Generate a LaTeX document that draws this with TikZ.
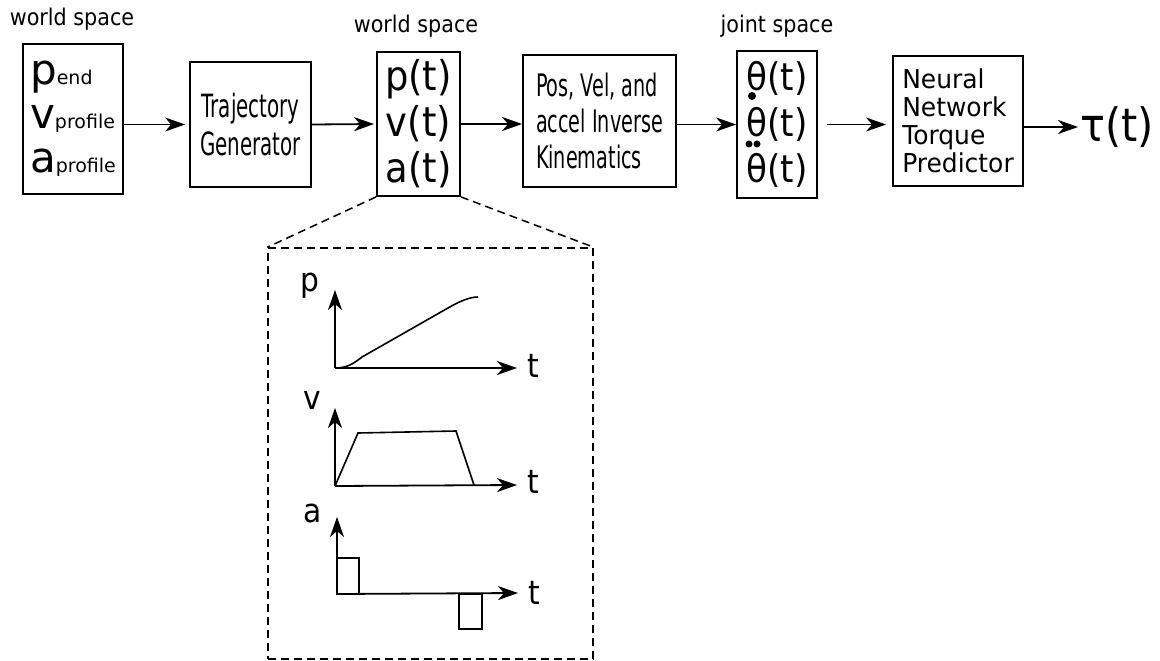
\documentclass[tikz,border=0pt]{standalone}
\usepackage{fontspec}
\setmainfont{DejaVu Sans}
\newfontfamily\narrowfont[FakeStretch=0.62]{DejaVu Sans}
\newfontfamily\slimfont[FakeStretch=0.9]{DejaVu Sans}
\newfontfamily\nnfont[FakeStretch=0.96]{DejaVu Sans}
\usepackage{tikz}
\usetikzlibrary{positioning}
\usetikzlibrary{arrows.meta}
\newcommand{\fs}[2]{\fontsize{#1}{#2}\selectfont}
\newcommand{\quant}[2]{{\fs{42}{44}#1}{\fs{19}{44}#2}}
\tikzstyle{block} = [rectangle, draw, line width=1.8pt, inner sep=0pt]
\tikzstyle{line} = [draw, line width=1.8pt, -{Stealth[length=20pt,width=14pt,inset=6pt]}]
\tikzstyle{zoomline} = [draw, line width=1.5pt, dash pattern=on 8pt off 5pt]
\tikzstyle{curve} = [draw, line width=1.6pt]
\tikzstyle{axislabel} = [font=\slimfont\fs{33}{36}, inner sep=0pt]
\tikzstyle{spacelabel} = [font=\slimfont\fs{23}{26}]

\begin{document}
\begin{tikzpicture}[x=1pt, y=-1pt]
  \useasboundingbox (0,0) rectangle (1160,661);

  \node [block, minimum width=100pt, minimum height=150pt, align=left,
    font=\fs{42}{44}] (input) at (73,119)
    {\quant{p}{end}\\\quant{v}{profile}\\\quant{a}{profile}};
  \node [block, minimum width=121pt, minimum height=125pt, align=center,
    font=\narrowfont\fs{32}{38}] (traj) at (250.5,124.5) {Trajectory\\Generator};
  \node [block, minimum width=83pt, minimum height=144pt, align=center,
    font=\slimfont\fs{41}{46}] (world) at (418.5,124) {p(t)\\v(t)\\a(t)};
  \node [block, minimum width=153pt, minimum height=132pt, align=left,
    font=\narrowfont\fs{31}{36}] (ik) at (599.5,121) {Pos, Vel, and\\accel Inverse\\Kinematics};
  \node [block, minimum width=80pt, minimum height=147pt, align=center,
    font=\slimfont\fs{38}{46}] (joint) at (777,124.5) {θ(t)\\θ(t)\\θ(t)};
  \node [block, minimum width=130pt, minimum height=130pt, align=left,
    font=\nnfont\fs{26}{28}] (nn) at (958,121) {Neural\\Network\\Torque\\Predictor};
  \node [font=\slimfont\fs{46}{50}, inner sep=2pt] (tau) at (1117,127) {τ(t)};

  % space labels
  \node [spacelabel] (wsin) at (72,19) {world space};
  \node [spacelabel] (wsout) at (416,26) {world space};
  \node [spacelabel] (js) at (777,26) {joint space};

  % derivative dots
  \fill (752,96) circle (4pt);
  \fill (749,144) circle (3.5pt);
  \fill (757,144) circle (3.5pt);

  \path [line, shorten >=4pt] (input.east |- traj.west) -- (traj.west);
  \path [line, shorten >=2pt] (traj.east) -- (world.west);
  \path [line] (world.east) -- (ik.west |- world.east);
  \path [line] (ik.east |- joint.west) -- (joint.west);
  \path [line, shorten <=9pt, shorten >=6pt] (joint.east) -- (nn.west |- joint.east);
  \path [line] (nn.east |- tau.west) -- (tau.west);

  % zoom on the world space trajectory
  \node [zoomline, minimum width=325pt, minimum height=411pt, inner sep=0pt]
    (detail) at (430.5,453.5) {};
  \path [zoomline] (world.south west) -- (detail.north west);
  \path [zoomline] (world.south east) -- (detail.north east);

  % position
  \path [line] (335,368) -- (335,290);
  \path [line] (335,368) -- (517,368);
  \path [curve] (335,368) .. controls (347,368) and (353,364) .. (362,357)
    -- (448,308) .. controls (460,301) and (470,297) .. (478,297);
  \node [axislabel] (plab) at (310,286) {p};
  \node [axislabel] (ptlab) at (533,366) {t};

  % velocity
  \path [line] (335,486) -- (335,408);
  \path [line] (335,486) -- (517,485);
  \path [curve] (335,486) -- (358,433) -- (456,431) -- (474,485);
  \node [axislabel] (vlab) at (312,400) {v};
  \node [axislabel] (vtlab) at (533,482) {t};

  % acceleration
  \path [line] (337,594) -- (337,517);
  \path [line] (337,594) -- (518,593);
  \path [curve] (337,558) rectangle (359,594);
  \path [curve] (459,594) rectangle (482,629);
  \node [axislabel] (alab) at (313,513) {a};
  \node [axislabel] (atlab) at (534.5,592.5) {t};
\end{tikzpicture}
\end{document}
